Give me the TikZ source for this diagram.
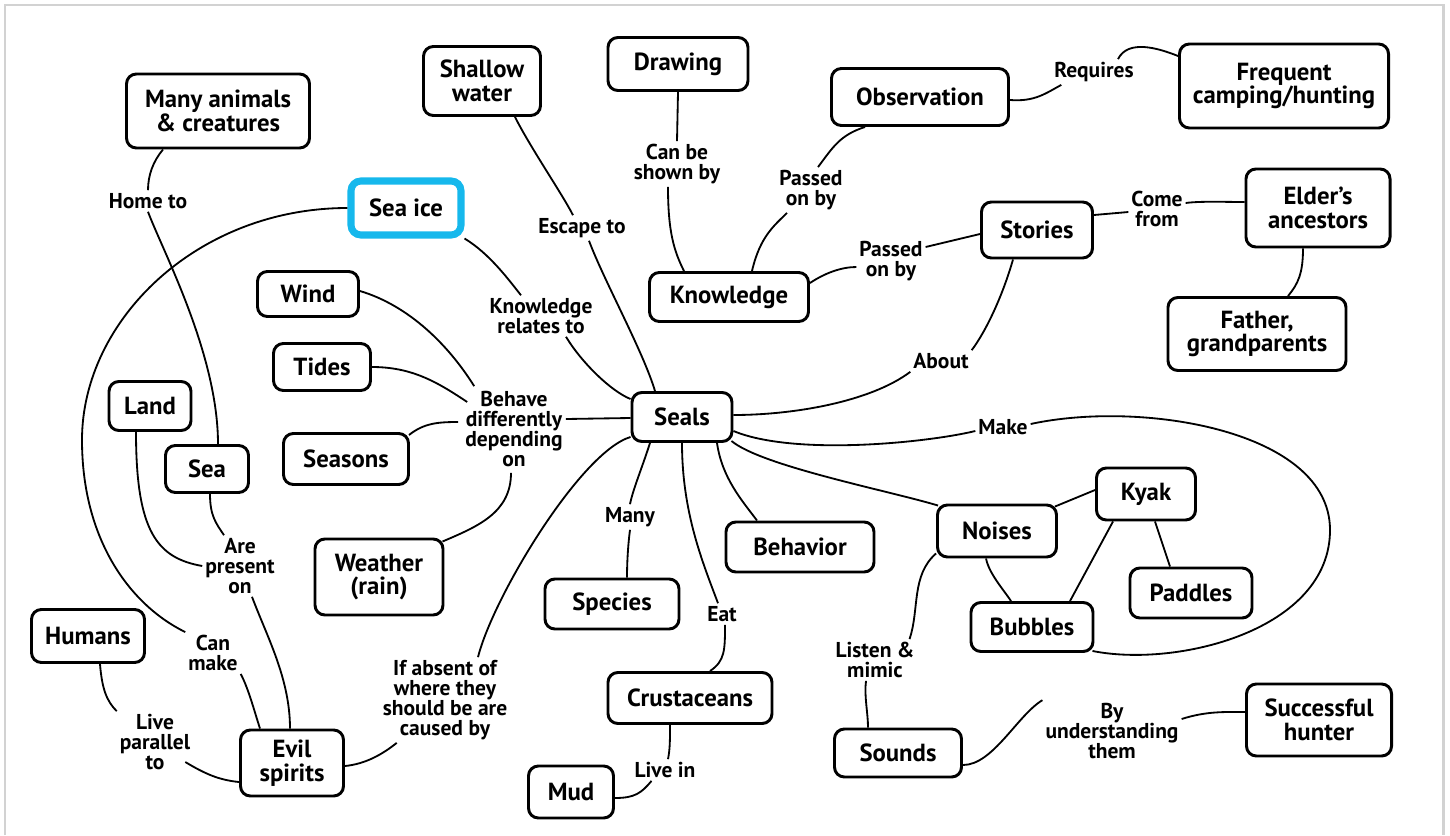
\documentclass[tikz,border=0pt]{standalone}
\usepackage{fontspec}
\setmainfont{PT Sans}
\usetikzlibrary{calc}
\definecolor{iceblue}{RGB}{22,184,236}
\definecolor{framegray}{RGB}{210,210,210}
\begin{document}
\begin{tikzpicture}[x=0.025cm, y=-0.025cm,
    concept/.style={draw, line width=2.1pt, rounded corners=7pt, align=center,
        font=\fontsize{17.6}{16.8}\selectfont\bfseries},
    sz/.style 2 args={minimum width=#1*0.025cm, minimum height=#2*0.025cm},
    lbl/.style={align=center, inner sep=2pt, font=\fontsize{15.3}{14.2}\selectfont\bfseries},
    link/.style={line width=1.3pt}]
    \useasboundingbox (0,0) rectangle (1450,835);

    % Frame
    \draw[framegray, line width=2.1pt] (5,835) -- (5,5) -- (1443,5) -- (1443,835);

    % Concepts
    \node[concept, sz={183}{74}] (animals) at (218,111) {Many animals\\\& creatures};
    \node[concept, sz={117}{69}] (shallow) at (482,81) {Shallow\\water};
    \node[concept, sz={140}{53}] (drawing) at (678,64) {Drawing};
    \node[concept, sz={177}{57}] (observ) at (920,97) {Observation};
    \node[concept, sz={209}{84}] (camping) at (1284,86) {Frequent\\camping/hunting};
    \node[concept, sz={110}{54}, draw=iceblue, line width=5pt] (seaice) at (406,208) {Sea ice};
    \node[concept, sz={101}{45}] (wind) at (308,294) {Wind};
    \node[concept, sz={97}{47}] (tides) at (322,367) {Tides};
    \node[concept, sz={82}{49}] (land) at (150,406) {Land};
    \node[concept, sz={83}{47}] (sea) at (207,469) {Sea};
    \node[concept, sz={125}{51}] (seasons) at (346,459) {Seasons};
    \node[concept, sz={128}{76}] (weather) at (379,577) {Weather\\(rain)};
    \node[concept, sz={113}{53}] (humans) at (88,636) {Humans};
    \node[concept, sz={103}{66}] (evil) at (292,763) {Evil\\spirits};
    \node[concept, sz={100}{49}] (seals) at (682,417) {Seals};
    \node[concept, sz={159}{49}] (knowledge) at (729,297) {Knowledge};
    \node[concept, sz={111}{56}] (stories) at (1037,230) {Stories};
    \node[concept, sz={144}{78}] (elders) at (1318,208) {Elder’s\\ancestors};
    \node[concept, sz={178}{73}] (father) at (1257,334) {Father,\\grandparents};
    \node[concept, sz={134}{50}] (species) at (612,604) {Species};
    \node[concept, sz={148}{50}] (behavior) at (800,547) {Behavior};
    \node[concept, sz={164}{51}] (crust) at (690,698) {Crustaceans};
    \node[concept, sz={85}{52}] (mud) at (571,792) {Mud};
    \node[concept, sz={119}{52}] (noises) at (997,531) {Noises};
    \node[concept, sz={99}{52}] (kyak) at (1146,494) {Kyak};
    \node[concept, sz={122}{50}] (paddles) at (1191,593) {Paddles};
    \node[concept, sz={122}{49}] (bubbles) at (1032,627) {Bubbles};
    \node[concept, sz={127}{48}] (sounds) at (898,753) {Sounds};
    \node[concept, sz={145}{72}] (hunter) at (1319,720) {Successful\\hunter};

    % Link labels
    \node[lbl] (lblHome) at (148,201) {Home to};
    \node[lbl] (lblEscape) at (582,228) {Escape to};
    \node[lbl] (lblShown) at (677,164) {Can be\\shown by};
    \node[lbl] (lblPassedA) at (811,190) {Passed\\on by};
    \node[lbl] (lblPassedB) at (891,261) {Passed\\on by};
    \node[lbl] (lblRequires) at (1094,72) {Requires};
    \node[lbl] (lblCome) at (1157,209) {Come\\from};
    \node[lbl] (lblKR) at (541,316) {Knowledge\\relates to};
    \node[lbl] (lblBehave) at (514,429) {Behave\\differently\\depending\\on};
    \node[lbl] (lblAbout) at (941,361) {About};
    \node[lbl] (lblMake) at (1003,427) {Make};
    \node[lbl] (lblMany) at (630,517) {Many};
    \node[lbl] (lblEat) at (722,614) {Eat};
    \node[lbl] (lblLivein) at (665,770) {Live in};
    \node[lbl] (lblListen) at (875,660) {Listen \&\\mimic};
    \node[lbl] (lblPresent) at (240,566) {Are\\present\\on};
    \node[lbl] (lblCanMake) at (213,653) {Can\\make};
    \node[lbl] (lblParallel) at (155,742) {Live\\parallel\\to};
    \node[lbl] (lblAbsent) at (445,700) {If absent of\\where they\\should be are\\caused by};
    \node[lbl] (lblUnder) at (1112,731) {By\\understanding\\them};

    % Left side
    \draw[link] ($(animals.south)+(-55,0)$) .. controls +(-10,12) and +(0,-15) .. (lblHome.north);
    \draw[link] (lblHome.south) .. controls +(15,40) and +(0,-90) .. ($(sea.north)+(11,0)$);
    \draw[link] (seaice.west) .. controls +(-150,0) and +(0,-120) .. (82,440)
        .. controls +(0,100) and +(-55,-27) .. (lblCanMake.north west);
    \draw[link] (lblCanMake.south east) .. controls +(8,15) and +(-5,-15) .. ($(evil.north)+(-32,0)$);
    \draw[link] ($(land.south)+(-14,0)$) .. controls +(0,100) and +(-45,-8) .. (lblPresent.west);
    \draw[link] ($(sea.south)+(3,0)$) .. controls +(0,22) and +(-8,-12) .. ($(lblPresent.north)+(-16,0)$);
    \draw[link] ($(lblPresent.south)+(12,0)$) .. controls +(15,40) and +(0,-50) .. ($(evil.north)+(-2,0)$);
    \draw[link] ($(humans.south)+(12,0)$) .. controls +(2,25) and +(-10,-10) .. (lblParallel.north west);
    \draw[link] ($(lblParallel.east)+(-8,20)$) .. controls +(20,12) and +(-20,-2) .. ($(evil.west)+(0,19)$);
    \draw[link] ($(evil.east)+(0,3)$) .. controls +(20,-2) and +(-15,12) .. ($(lblAbsent.south west)+(17,0)$);
    \draw[link] ($(lblAbsent.north)+(33,0)$) .. controls +(15,-60) and +(-50,15) .. ($(seals.south west)+(0,-6)$);

    % Behave differently depending on
    \draw[link] ($(wind.east)+(0,-3)$) .. controls +(50,15) and +(-25,-40) .. ($(lblBehave.north west)+(12,-2)$);
    \draw[link] (tides.east) .. controls +(40,0) and +(-30,-20) .. ($(lblBehave.west)+(5,-27)$);
    \draw[link] ($(seasons.north east)+(-1,3)$) .. controls +(15,-12) and +(-20,0) .. ($(lblBehave.west)+(-4,-7)$);
    \draw[link] ($(lblBehave.east)+(0,-10)$) -- ($(seals.west)+(0,1)$);
    \draw[link] ($(lblBehave.south)+(-3,3)$) .. controls +(0,40) and +(35,-15) .. ($(weather.north east)+(-2,4)$);

    % Top
    \draw[link] (seaice.south east) .. controls +(25,15) and +(-12,-15) .. ($(lblKR.north)+(-20,0)$);
    \draw[link] ($(lblKR.south)+(25,0)$) .. controls +(15,25) and +(-20,-8) .. ($(seals.west)+(0,-18)$);
    \draw[link] ($(shallow.south)+(33,0)$) .. controls +(15,30) and +(-10,-20) .. ($(lblEscape.north)+(-9,0)$);
    \draw[link] ($(lblEscape.south)+(7,0)$) .. controls +(15,40) and +(-12,-40) .. ($(seals.north)+(-27,0)$);
    \draw[link] (drawing.south) -- (lblShown.north);
    \draw[link] ($(lblShown.south)+(-9,0)$) .. controls +(0,45) and +(-10,-20) .. ($(knowledge.north)+(-45,0)$);
    \draw[link] ($(knowledge.north)+(23,0)$) .. controls +(8,-35) and +(-12,12) .. ($(lblPassedA.south)+(-24,0)$);
    \draw[link] ($(lblPassedA.north)+(7,0)$) .. controls +(15,-20) and +(-25,8) .. ($(observ.south)+(-55,0)$);
    \draw[link] ($(observ.east)+(0,3)$) .. controls +(25,2) and +(-15,8) .. ($(lblRequires.south west)+(10,0)$);
    \draw[link] ($(lblRequires.north)+(24,0)$) .. controls +(10,-20) and +(-20,-8) .. ($(camping.west)+(0,-30)$);
    \draw[link] ($(knowledge.east)+(0,-14)$) .. controls +(15,-10) and +(-15,0) .. ($(lblPassedB.west)+(0,6)$);
    \draw[link] ($(lblPassedB.east)+(0,-14)$) -- ($(stories.west)+(0,4)$);
    \draw[link] ($(stories.east)+(0,-15)$) -- ($(lblCome.west)+(0,3)$);
    \draw[link] ($(lblCome.east)+(0,-6)$) .. controls +(15,-2) and +(-20,0) .. ($(elders.west)+(0,-6)$);
    \draw[link] ($(elders.south)+(-15,0)$) .. controls +(0,25) and +(10,-12) .. ($(father.north)+(31,0)$);
    \draw[link] ($(stories.south)+(-24,0)$) .. controls +(-10,35) and +(15,-20) .. (lblAbout.north east);
    \draw[link] (lblAbout.south west) .. controls +(-40,30) and +(60,0) .. ($(seals.east)+(0,-2)$);

    % Make loop
    \draw[link] ($(seals.east)+(0,14)$) .. controls +(60,25) and +(-50,12) .. ($(lblMake.west)+(0,4)$);
    \draw[link] ($(lblMake.east)+(0,-3)$) .. controls +(110,-24) and +(0,-100) .. (1330,530)
        .. controls +(0,100) and +(85,17) .. ($(bubbles.south east)+(-2,-2)$);

    % Seals below
    \draw[link] ($(seals.south east)+(-2,-2)$) .. controls +(30,25) and +(-50,-15) .. ($(noises.north west)+(2,2)$);
    \draw[link] ($(seals.south)+(-32,0)$) .. controls +(-8,25) and +(3,-15) .. (lblMany.north);
    \draw[link] (lblMany.south) .. controls +(-2,15) and +(0,-15) .. ($(species.north)+(15,0)$);
    \draw[link] (seals.south) .. controls +(0,70) and +(-15,-40) .. ($(lblEat.north)+(-4,0)$);
    \draw[link] ($(lblEat.south)+(3,0)$) .. controls +(0,25) and +(15,-10) .. ($(crust.north)+(20,0)$);
    \draw[link] ($(seals.south)+(35,0)$) .. controls +(5,35) and +(-15,-20) .. ($(behavior.north)+(-43,0)$);
    \draw[link] ($(crust.south)+(-20,0)$) .. controls +(0,15) and +(2,-10) .. ($(lblLivein.north)+(3,0)$);
    \draw[link] ($(lblLivein.south west)+(20,0)$) .. controls +(-10,12) and +(20,0) .. ($(mud.east)+(0,6)$);

    % Noises group
    \draw[link] ($(noises.north east)+(-3,3)$) -- ($(kyak.west)+(0,-4)$);
    \draw[link] ($(noises.south)+(-11,0)$) .. controls +(3,15) and +(-8,-12) .. ($(bubbles.north)+(-21,0)$);
    \draw[link] ($(kyak.south)+(-33,0)$) -- ($(bubbles.north)+(38,0)$);
    \draw[link] ($(kyak.south)+(9,0)$) -- ($(paddles.north)+(-21,0)$);
    \draw[link] ($(noises.south west)+(0,-5)$) .. controls +(-25,22) and +(10,-30) .. ($(lblListen.north east)+(-8,0)$);
    \draw[link] ($(lblListen.south)+(-9,0)$) .. controls +(-2,15) and +(0,-15) .. ($(sounds.north)+(-30,0)$);
    \draw[link] ($(sounds.east)+(0,12)$) .. controls +(30,0) and +(-25,15) .. (lblUnder.north west);
    \draw[link] ($(lblUnder.east)+(0,-12)$) .. controls +(25,-8) and +(-20,0) .. ($(hunter.west)+(0,-8)$);
\end{tikzpicture}
\end{document}
